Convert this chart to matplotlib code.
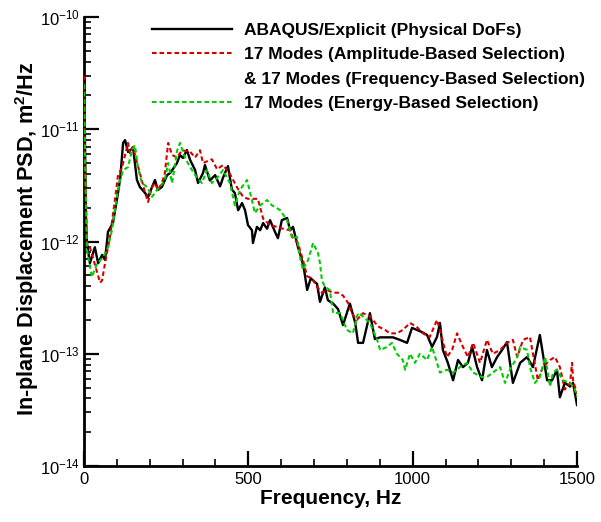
import matplotlib
matplotlib.use("Agg")
import matplotlib.pyplot as plt
from matplotlib.lines import Line2D
from matplotlib.ticker import LogLocator, MultipleLocator, NullFormatter
import numpy as np

plt.rcParams['font.family'] = ['Liberation Sans', 'DejaVu Sans']
plt.rcParams['mathtext.fontset'] = 'custom'
plt.rcParams['mathtext.rm'] = 'Liberation Sans'
plt.rcParams['mathtext.bf'] = 'Liberation Sans:bold'

# ---- data ----
freq_abaqus = [0, 3, 6, 9, 18, 33, 43, 55, 64, 73, 88, 100, 110, 119, 125, 134, 146, 149,
               161, 170, 186, 195, 207, 216, 225, 237, 253, 262, 283, 292, 301, 313, 323,
               338, 347, 362, 368, 383, 399, 414, 423, 438, 450, 459, 469, 481, 490, 499,
               511, 514, 526, 536, 545, 557, 566, 581, 590, 602, 618, 627, 636, 651, 663,
               670, 679, 690, 697, 709, 718, 733, 742, 758, 773, 788, 809, 825, 834, 849,
               870, 885, 901, 922, 940, 961, 983, 998, 1013, 1028, 1044, 1059, 1074, 1083,
               1092, 1107, 1123, 1138, 1153, 1168, 1181, 1196, 1211, 1226, 1241, 1257, 1272,
               1287, 1305, 1327, 1348, 1366, 1387, 1409, 1424, 1439, 1448, 1463, 1479, 1488,
               1500]
psd_abaqus = [3e-11, 8e-12, 1.6e-12, 9.7e-13, 6.4e-13, 8.9e-13, 6.4e-13, 7.6e-13, 6.85e-13,
              1.22e-12, 1.46e-12, 2.34e-12, 3.6e-12, 7.55e-12, 8.0e-12, 6.27e-12, 6.7e-12,
              6.95e-12, 3.53e-12, 3.06e-12, 2.7e-12, 2.49e-12, 3.06e-12, 3.53e-12, 2.88e-12,
              3.06e-12, 3.91e-12, 4.07e-12, 5.0e-12, 5.9e-12, 5.55e-12, 6.53e-12, 5.32e-12,
              4.33e-12, 3.32e-12, 4.07e-12, 4.8e-12, 3.5e-12, 3.9e-12, 3.1e-12, 3.7e-12,
              4.7e-12, 2.9e-12, 2.7e-12, 1.9e-12, 2.2e-12, 1.9e-12, 1.4e-12, 1.26e-12,
              9.7e-13, 1.35e-12, 1.26e-12, 1.46e-12, 1.3e-12, 1.55e-12, 1.22e-12, 1.07e-12,
              1.55e-12, 1.62e-12, 1.26e-12, 1.35e-12, 8.9e-13, 6.85e-13,
              5.5e-13, 3.7e-13, 4.7e-13, 4.5e-13, 4.2e-13, 2.9e-13, 3.9e-13, 3.0e-13,
              2.8e-13, 2.5e-13, 1.8e-13, 2.8e-13, 1.9e-13, 1.25e-13, 1.25e-13, 2.3e-13,
              1.35e-13, 1.4e-13, 1.4e-13, 1.4e-13, 1.33e-13, 1.25e-13, 1.7e-13, 1.63e-13,
              1.56e-13, 1.47e-13, 1.15e-13, 1.41e-13, 1.88e-13, 1.08e-13, 8.3e-14, 5.8e-14,
              8.8e-14, 7.6e-14, 8.3e-14, 1.15e-13, 7.6e-14, 5.8e-14, 1.08e-13, 7.6e-14,
              9.35e-14, 1.08e-13, 1.27e-13, 5.5e-14, 8.3e-14, 9.35e-14, 7.6e-14, 1.47e-13,
              5.8e-14, 5.8e-14, 7.2e-14, 4.1e-14, 5.5e-14, 5.1e-14, 5.5e-14, 3.5e-14]

freq_amp = [0, 3, 9, 18, 27, 49, 55, 64, 79, 94, 103, 116, 125, 134, 140, 149, 161, 176,
            186, 195, 207, 216, 225, 237, 246, 256, 268, 283, 298, 323, 338, 353, 362, 389,
            405, 423, 444, 465, 484, 499, 514, 529, 545, 566, 587, 605, 627, 636, 651, 666,
            679, 694, 709, 724, 739, 758, 773, 788, 803, 815, 830, 849, 870, 895, 916, 931,
            952, 970, 992, 1013, 1031, 1052, 1074, 1083, 1104, 1120, 1135, 1153, 1168, 1184,
            1205, 1226, 1244, 1266, 1287, 1305, 1318, 1336, 1357, 1366, 1381, 1396, 1418,
            1433, 1448, 1463, 1479, 1485, 1488, 1500]
psd_amp = [3e-11, 5e-12, 9.3e-13, 8.9e-13, 7.2e-13, 4.3e-13, 4.5e-13, 6.4e-13, 1.1e-12,
           2.34e-12, 3.8e-12, 4.6e-12, 5.9e-12, 7.55e-12, 6.1e-12, 6.95e-12, 5.1e-12, 3.5e-12,
           2.7e-12, 2.25e-12, 3.06e-12, 3.32e-12, 2.88e-12, 3.32e-12, 4.07e-12, 7.55e-12,
           5.9e-12, 5.6e-12, 6.5e-12, 6.3e-12, 5.6e-12, 6.5e-12, 5.0e-12, 5.4e-12, 4.4e-12,
           4.8e-12, 4.0e-12, 3.06e-12, 2.5e-12, 2.4e-12, 2.4e-12, 2.4e-12, 1.6e-12, 1.4e-12,
           1.35e-12, 1.3e-12, 1.26e-12, 1.07e-12, 9.7e-13, 6.85e-13, 4.9e-13, 4.7e-13,
           3.95e-13, 3.5e-13, 3.7e-13, 3.5e-13, 3.5e-13, 3.3e-13, 2.85e-13, 2.3e-13, 2.0e-13,
           2.3e-13, 2.15e-13, 1.75e-13, 1.63e-13, 1.52e-13, 1.52e-13, 1.63e-13, 1.88e-13,
           1.73e-13, 1.52e-13, 1.41e-13, 2.0e-13, 1.63e-13, 9.35e-14, 1.08e-13, 1.52e-13,
           1.15e-13, 9.35e-14, 1.25e-13, 8.3e-14, 1.33e-13, 1.0e-13, 1.08e-13, 1.25e-13,
           1.33e-13, 9.35e-14, 1.33e-13, 1.41e-13, 1.0e-13, 5.8e-14, 7.6e-14, 8.8e-14,
           9.35e-14, 7.6e-14, 4.8e-14, 5.5e-14, 8.3e-14, 5.8e-14, 4.4e-14]

freq_energy = [0, 3, 9, 24, 40, 58, 73, 85, 100, 110, 119, 134, 146, 155, 164, 176, 192,
               207, 222, 231, 246, 256, 268, 283, 292, 307, 316, 323, 344, 359, 374, 389,
               405, 423, 444, 459, 475, 496, 511, 520, 536, 557, 572, 596, 618, 633, 648,
               657, 666, 682, 697, 712, 718, 724, 733, 748, 758, 779, 800, 818, 834, 849,
               870, 892, 901, 922, 937, 952, 970, 977, 992, 1007, 1022, 1044, 1059, 1074,
               1083, 1104, 1123, 1144, 1165, 1184, 1211, 1226, 1244, 1266, 1281, 1296, 1318,
               1327, 1348, 1357, 1372, 1387, 1403, 1418, 1427, 1439, 1457, 1479, 1494, 1500]
psd_energy = [2.5e-11, 6e-12, 8.4e-13, 4.83e-13, 6.4e-13, 7.2e-13, 8.9e-13, 1.26e-12,
              2.5e-12, 3.53e-12, 4.33e-12, 4.6e-12, 6.5e-12, 7.2e-12, 4.6e-12, 3.32e-12,
              3.06e-12, 2.5e-12, 2.88e-12, 3.06e-12, 3.53e-12, 5.0e-12, 3.32e-12, 6.4e-12,
              7.55e-12, 5.6e-12, 5.0e-12, 4.6e-12, 3.68e-12, 3.32e-12, 4.33e-12, 3.32e-12,
              3.68e-12, 4.33e-12, 3.32e-12, 2.1e-12, 2.9e-12, 3.53e-12, 2.34e-12, 1.79e-12,
              2.1e-12, 2.34e-12, 2.1e-12, 1.91e-12, 1.55e-12, 1.07e-12, 1.1e-12, 7.3e-13,
              5.6e-13, 6.85e-13, 9.7e-13, 7.9e-13, 6.4e-13, 4.5e-13, 3.95e-13, 3.7e-13,
              2.31e-13, 2.31e-13, 1.63e-13, 1.52e-13, 2.31e-13, 2.15e-13, 1.88e-13, 1.33e-13,
              1.08e-13, 1.15e-13, 1.25e-13, 1.0e-13, 8.8e-14, 7.2e-14, 1.0e-13, 8.3e-14,
              1.0e-13, 8.8e-14, 1.15e-13, 8.3e-14, 6.8e-14, 7.2e-14, 6.8e-14, 7.6e-14,
              8.3e-14, 6.8e-14, 6.2e-14, 6.2e-14, 6.8e-14, 7.6e-14, 5.5e-14, 7.2e-14,
              9.35e-14, 1.15e-13, 1.08e-13, 7.6e-14, 5.5e-14, 6.2e-14, 9.35e-14, 5.1e-14,
              6.8e-14, 7.2e-14, 5.8e-14, 5.5e-14, 4.8e-14, 4.1e-14]

labels = ["ABAQUS/Explicit (Physical DoFs)",
          "17 Modes (Amplitude-Based Selection)",
          "& 17 Modes (Frequency-Based Selection)",
          "17 Modes (Energy-Based Selection)"]

# ---- figure ----
fig = plt.figure(figsize=(6.01, 5.22), dpi=100)
ax = fig.add_axes([84/601, (522-466)/522, 493/601, 449/522])

RED = '#d40000'
GREEN = '#00cc00'
l1, = ax.plot(freq_abaqus, psd_abaqus, color='black', lw=1.7, zorder=3)
l2, = ax.plot(freq_amp, psd_amp, color=RED, lw=1.5, dashes=(2.2, 1.4), zorder=4)
l3, = ax.plot(freq_energy, psd_energy, color=GREEN, lw=1.5, dashes=(2.2, 1.4), zorder=5)

ax.set_yscale('log')
ax.set_xlim(0, 1500)
ax.set_ylim(1e-14, 1e-10)

for s in ['top', 'right']:
    ax.spines[s].set_visible(False)
for s in ['left', 'bottom']:
    ax.spines[s].set_linewidth(2)

ax.xaxis.set_major_locator(MultipleLocator(500))
ax.xaxis.set_minor_locator(MultipleLocator(100))
ax.yaxis.set_major_locator(LogLocator(base=10, numticks=10))
ax.yaxis.set_minor_locator(LogLocator(base=10, subs=np.arange(2, 10), numticks=10))
ax.yaxis.set_minor_formatter(NullFormatter())

ax.tick_params(axis='both', which='major', direction='in', length=11, width=1.6,
               labelsize=12, pad=3)
ax.tick_params(axis='both', which='minor', direction='in', length=5, width=1.2)
ax.tick_params(axis='x', which='major', pad=4)

ax.set_xlabel("Frequency, Hz", fontsize=15, fontweight='bold', va='top')
ax.xaxis.set_label_coords(0.5, -0.052)
ax.set_ylabel(r"In-plane Displacement PSD, m$^{\mathbf{2}}$/Hz", fontsize=15.6,
              fontweight='bold')
ax.yaxis.set_label_coords(-0.088, 0.505)

blank = Line2D([], [], color='none')
leg = ax.legend([l1, l2, blank, l3], labels, loc='upper left',
                bbox_to_anchor=(140/601, 1 - 11/522), bbox_transform=fig.transFigure,
                frameon=False, handlelength=4.6, handletextpad=0.7, labelspacing=0.52,
                prop={'weight': 'bold', 'size': 12.5}, borderpad=0.2)

fig.savefig("out.png", dpi=100)
